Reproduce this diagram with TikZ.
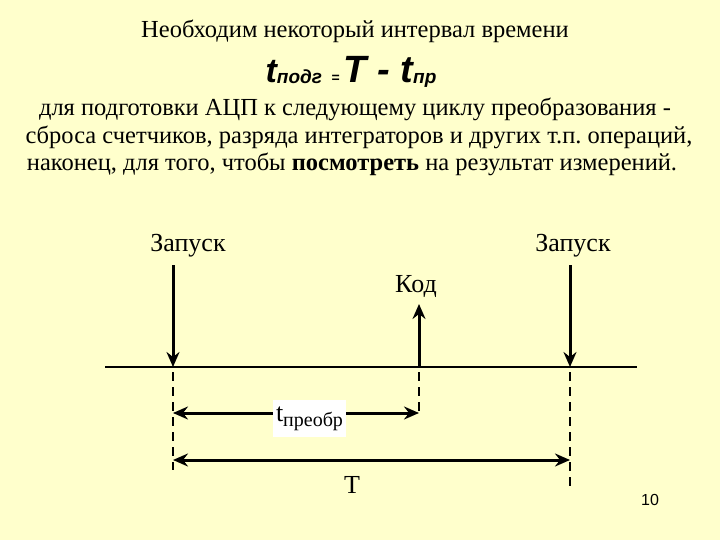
\documentclass[tikz,border=0pt]{standalone}
\usepackage{fontspec}
\setmainfont{Liberation Serif}
\setsansfont{Liberation Sans}
\usetikzlibrary{arrows.meta}
\definecolor{bg}{RGB}{255,255,204}
\frenchspacing
\tikzset{
  txt/.style={font=\fontsize{24.5}{28}\selectfont, inner sep=0pt},
  lbl/.style={font=\fontsize{26}{30}\selectfont, inner sep=0pt},
  arr/.style={line width=3pt, -{Stealth[length=15pt,width=13pt,inset=5pt]}},
  darr/.style={line width=3pt, {Stealth[length=15pt,width=13pt,inset=5pt]}-{Stealth[length=15pt,width=13pt,inset=5pt]}},
  dsh/.style={line width=2.6pt, dash pattern=on 9pt off 6pt}
}
\begin{document}
\begin{tikzpicture}[x=1pt,y=-1pt]
\fill[bg] (0,0) rectangle (720,540);
\useasboundingbox (0,0) rectangle (720,540);
\node[txt] (title) at (355,31) {Необходим некоторый интервал времени};
\node[inner sep=0pt, font=\sffamily\bfseries\itshape, anchor=base] (form) at (351,83)
  {\fontsize{34}{36}\selectfont t\raisebox{-1pt}{\fontsize{19}{21}\selectfont подг} \fontsize{14}{16}\selectfont= \fontsize{38}{40}\selectfont T - t\raisebox{-1pt}{\fontsize{19}{21}\selectfont пр}};
\node[txt] (l1) at (355,109) {для подготовки АЦП к следующему циклу преобразования -};
\node[txt] (l2) at (359,137) {сброса счетчиков, разряда интеграторов и других т.п. операций,};
\node[txt] (l3) at (352,164) {наконец, для того, чтобы \textbf{посмотреть} на результат измерений.};

% time axis
\coordinate (axL) at (105,367);
\coordinate (axR) at (637,367);
\draw[line width=2.4pt] (axL) -- (axR);

\node[lbl] (z1) at (188,246) {Запуск};
\node[lbl] (z2) at (573,246) {Запуск};
\node[lbl] (kod) at (416,287) {Код};

\coordinate (s1) at (173,265);
\coordinate (e1) at (173,367);
\coordinate (s2) at (570,265);
\coordinate (e2) at (570,367);
\coordinate (k0) at (419,367);
\coordinate (k1) at (419,304);
\draw[arr] (s1) -- (e1);
\draw[arr] (s2) -- (e2);
\draw[arr] (k0) -- (k1);

\coordinate (d1b) at (173,470);
\coordinate (d2b) at (570,490);
\coordinate (dkb) at (419,414);
\draw[dsh] (e1) ++(0,5) -- (d1b);
\draw[dsh] (e2) ++(0,5) -- (d2b);
\draw[dsh] (k0) ++(0,5) -- (dkb);

\coordinate (tpL) at (173,413);
\coordinate (tpR) at (419,413);
\draw[darr] (tpL) -- (tpR);
\node[fill=white, inner sep=0pt, minimum width=73pt, minimum height=37pt, font=\fontsize{26}{30}\selectfont] (tp) at (309.5,418.5) {t\raisebox{-5pt}{\fontsize{20}{22}\selectfont преобр}};

\coordinate (TL) at (173,460);
\coordinate (TR) at (570,460);
\draw[darr] (TL) -- (TR);
\node[lbl] (T) at (352,485) {T};

\node[font=\sffamily\fontsize{16}{18}\selectfont, inner sep=0pt] (pg) at (650,500) {10};
\end{tikzpicture}
\end{document}
